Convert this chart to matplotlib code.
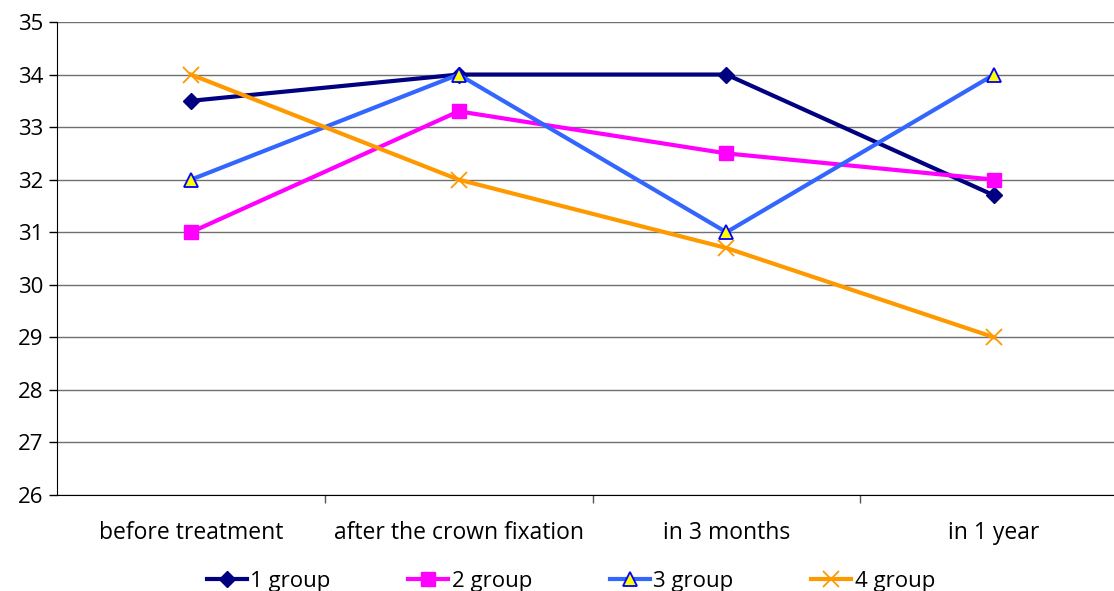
import matplotlib
matplotlib.use("Agg")
import matplotlib.pyplot as plt
from matplotlib.ticker import FixedLocator

# Veriler
categories = ["before treatment", "after the crown fixation", "in 3 months", "in 1 year"]
group1 = [33.5, 34, 34, 31.7]
group2 = [31, 33.3, 32.5, 32]
group3 = [32, 34, 31, 34]
group4 = [34, 32, 30.7, 29]
y_ticks = list(range(26, 36))

plt.rcParams['font.family'] = ['Open Sans', 'DejaVu Sans']

fig = plt.figure(figsize=(11.14, 5.91), dpi=100)
# eksen sağ kenarı görüntünün dışına taşıyor (orijinalde kırpılmış)
ax = fig.add_axes([0.0512, 0.1624, 0.9614, 0.8004])

x = list(range(len(categories)))

ax.plot(x, group1, color='#000080', lw=3, marker='D', ms=8, mfc='#000080', mec='#000080', label='1 group', zorder=3)
ax.plot(x, group2, color='#FF00FF', lw=3, marker='s', ms=10, mfc='#FF00FF', mec='#FF00FF', label='2 group', zorder=3)
ax.plot(x, group3, color='#3366FF', lw=3, marker='^', ms=10, mfc='#FFFF00', mec='#0000FF', mew=1.3, label='3 group', zorder=3)
ax.plot(x, group4, color='#FF9900', lw=3, marker='x', ms=11, mec='#FF9900', mew=1.3, label='4 group', zorder=3)

ax.set_xlim(-0.5, 3.5)
ax.set_ylim(26, 35)
ax.set_yticks(y_ticks)
ax.tick_params(axis='y', labelsize=16, length=6, width=1, direction='out', pad=4)
ax.yaxis.grid(True, color='#707070', lw=1)
ax.set_axisbelow(True)

ax.set_xticks(x)
ax.set_xticklabels(categories, fontsize=16.5)
ax.tick_params(axis='x', which='major', length=0, pad=19)
ax.xaxis.set_minor_locator(FixedLocator([0.5, 1.5, 2.5]))
ax.tick_params(axis='x', which='minor', length=6, width=1, color='#555555', direction='out')

for side in ['top', 'right']:
    ax.spines[side].set_visible(False)
ax.spines['left'].set_color('black')
ax.spines['bottom'].set_color('black')

fig.legend(loc='lower center', bbox_to_anchor=(0.5125, -0.035), ncol=4, frameon=False,
           fontsize=16, handlelength=1.8, handletextpad=0.15, columnspacing=3.5)

fig.savefig('out.png', dpi=100)
